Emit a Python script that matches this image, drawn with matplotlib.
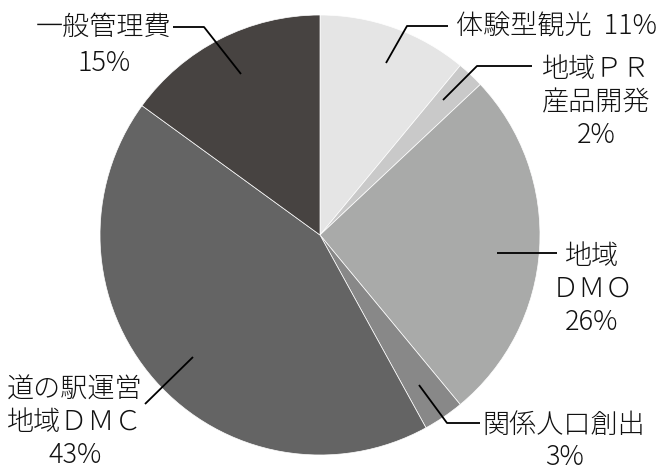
import matplotlib.pyplot as plt

plt.rcParams['font.family'] = ['Noto Sans CJK JP', 'DejaVu Sans']

# データ（上から時計回り）
labels = ['体験型観光', '地域ＰＲ\n産品開発', '地域\nＤＭＯ', '関係人口創出', '道の駅運営\n地域ＤＭＣ', '一般管理費']
shares = [11, 2, 26, 3, 43, 15]
colors = ['#e5e5e5', '#c9c9c9', '#a9aaa9', '#888888', '#646464', '#474341']

W, H = 661, 466
CX, CY, R = 320, 235, 220


def px(x, y):
    """画像のピクセル座標 -> データ座標"""
    return ((x - CX) / R, (CY - y) / R)


fig = plt.figure(figsize=(W / 100, H / 100), dpi=100)
ax = fig.add_axes([0, 0, 1, 1])
ax.pie(shares, colors=colors, startangle=90, counterclock=False,
       radius=1, center=(0, 0),
       wedgeprops=dict(edgecolor='white', linewidth=0.5))
ax.set_xlim(-CX / R, (W - CX) / R)
ax.set_ylim(-(H - CY) / R, CY / R)
ax.set_aspect('auto')
ax.axis('off')

# ラベルと引き出し線（ピクセル座標）
leaders = [
    [(386, 63), (407, 26), (448, 26)],
    [(443, 100), (477, 66), (532, 66)],
    [(497, 253), (557, 253)],
    [(419, 385), (447, 423), (480, 423)],
    [(193, 357), (145, 404)],
    [(241, 74), (204, 27), (173, 27)],
]
text_pos = [
    (556, 27, 1.25),
    (596, 102, 1.22),
    (592, 289, 1.22),
    (564, 441, 1.22),
    (75, 422, 1.22),
    (104, 45, 1.4),
]

for i, (lab, v) in enumerate(zip(labels, shares)):
    pts = [px(x, y) for x, y in leaders[i]]
    ax.plot([p[0] for p in pts], [p[1] for p in pts], color='black', lw=1.3,
            solid_capstyle='butt')
    if i == 0:
        s = f'{lab}  {v}%'
    else:
        s = f'{lab}\n{v}%'
    tx, ty, ls = text_pos[i]
    ax.text(*px(tx, ty), s, ha='center', va='center', fontsize=19.5,
            linespacing=ls, color='#111111', fontweight='light')

fig.savefig('out.png', dpi=100)
